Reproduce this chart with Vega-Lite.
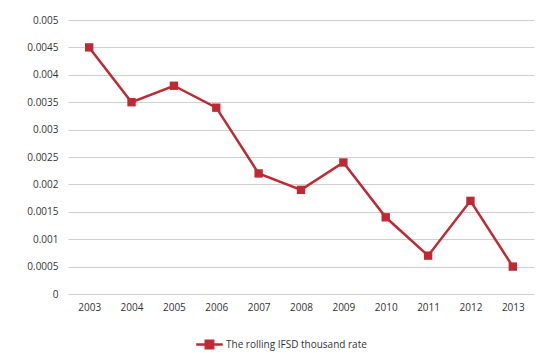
{
  "$schema": "https://vega.github.io/schema/vega-lite/v6.json",
  "autosize": "none",
  "width": 466,
  "height": 274,
  "padding": {"left": 68, "top": 20, "right": 12, "bottom": 59},
  "background": "white",
  "config": {
    "view": {"stroke": null},
    "font": "Open Sans",
    "axis": {"labelFont": "Open Sans", "labelFontSize": 10, "labelColor": "#333333", "gridColor": "#cfcfcf", "domain": false, "ticks": false, "title": null},
    "legend": {"labelFont": "Open Sans", "labelFontSize": 10, "labelColor": "#333333"}
  },
  "data": {
    "values": [
      {"year": "2003", "rate": 0.0045, "series": "The rolling IFSD thousand rate"},
      {"year": "2004", "rate": 0.0035, "series": "The rolling IFSD thousand rate"},
      {"year": "2005", "rate": 0.0038, "series": "The rolling IFSD thousand rate"},
      {"year": "2006", "rate": 0.0034, "series": "The rolling IFSD thousand rate"},
      {"year": "2007", "rate": 0.0022, "series": "The rolling IFSD thousand rate"},
      {"year": "2008", "rate": 0.0019, "series": "The rolling IFSD thousand rate"},
      {"year": "2009", "rate": 0.0024, "series": "The rolling IFSD thousand rate"},
      {"year": "2010", "rate": 0.0014, "series": "The rolling IFSD thousand rate"},
      {"year": "2011", "rate": 0.0007, "series": "The rolling IFSD thousand rate"},
      {"year": "2012", "rate": 0.0017, "series": "The rolling IFSD thousand rate"},
      {"year": "2013", "rate": 0.0005, "series": "The rolling IFSD thousand rate"}
    ]
  },
  "encoding": {
    "x": {"field": "year", "type": "ordinal", "scale": {"paddingInner": 0, "paddingOuter": 0.5}, "axis": {"labelAngle": 0, "labelPadding": 8, "grid": false}},
    "y": {"field": "rate", "type": "quantitative", "scale": {"domain": [0, 0.005], "nice": false}, "axis": {"values": [0, 0.0005, 0.001, 0.0015, 0.002, 0.0025, 0.003, 0.0035, 0.004, 0.0045, 0.005], "labelExpr": "datum.value == 0 ? '0' : format(datum.value, '~g')", "labelPadding": 10, "grid": true}},
    "color": {"field": "series", "type": "nominal", "scale": {"range": ["#be2a33"]}, "legend": {"orient": "none", "legendX": 127, "legendY": 310, "title": null, "symbolType": "M-1,0H1M-0.28,-0.28H0.28V0.28H-0.28Z", "symbolSize": 700, "symbolStrokeWidth": 2.5, "symbolFillColor": "#be2a33", "symbolStrokeColor": "#be2a33", "labelOffset": 2}}
  },
  "layer": [
    {"mark": {"type": "line", "strokeWidth": 2.5}},
    {"mark": {"type": "point", "shape": "square", "filled": true, "size": 70, "opacity": 1}}
  ]
}
